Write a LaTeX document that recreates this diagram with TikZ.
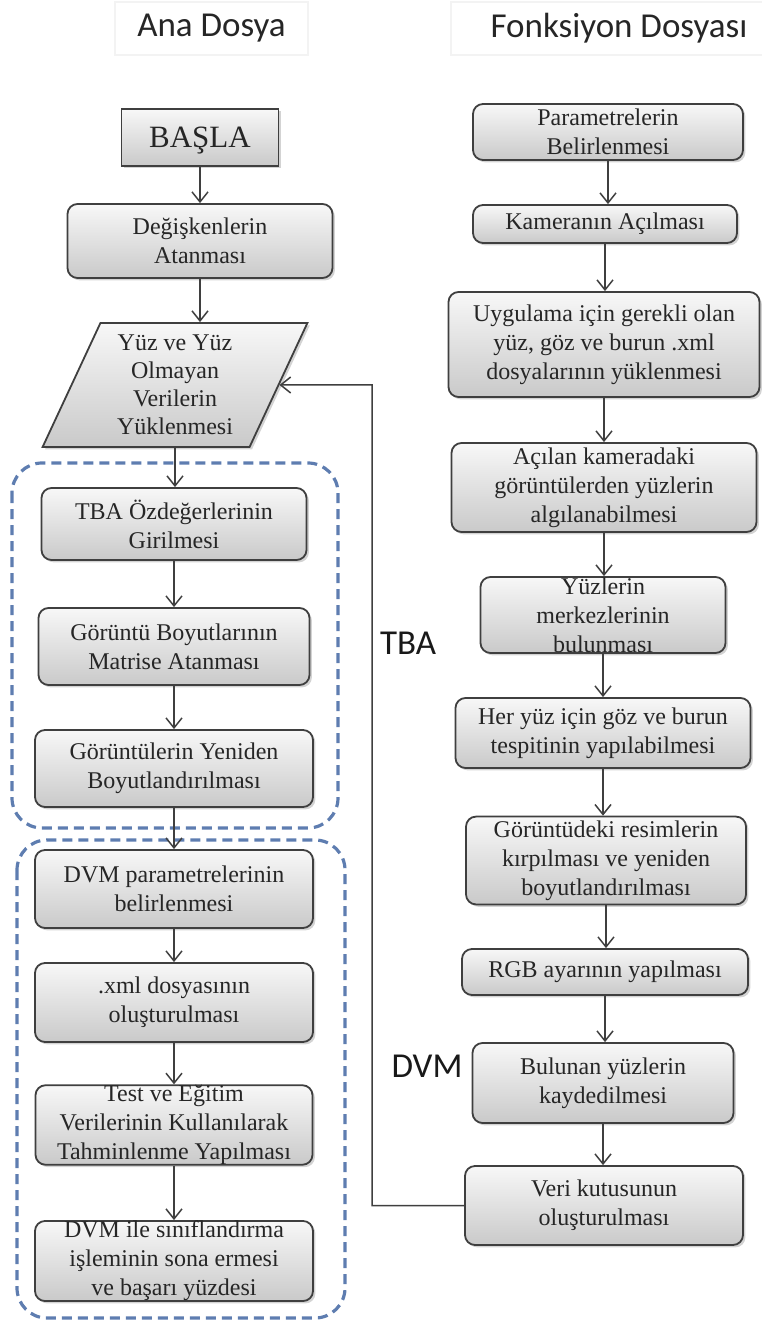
\documentclass[tikz,border=0pt]{standalone}
\usepackage{fontspec}
\setmainfont{Liberation Serif}
\newfontfamily\headfont{Carlito}
\usepackage{tikz}
\usetikzlibrary{arrows.meta,shapes.geometric,shadows,positioning}
\definecolor{framegray}{HTML}{3F3F3F}
\definecolor{dashblue}{HTML}{5E7DB0}
\definecolor{headline}{HTML}{F3F3F3}
\tikzset{
  procbox/.style={draw=framegray,line width=0.9pt,rounded corners=5pt,top color=gray!6,bottom color=gray!42,
    align=center,font=\fontsize{12}{14.5}\selectfont,text=black!85,inner sep=2pt,
    drop shadow={shadow xshift=1.2pt,shadow yshift=-1.2pt,opacity=0.35}},
  startbox/.style={procbox,sharp corners,font=\fontsize{15.5}{18}\selectfont,text depth=0pt},
  iobox/.style={procbox,sharp corners,trapezium,trapezium left angle=66,trapezium right angle=114,
    trapezium stretches=true,font=\fontsize{12}{14}\selectfont},
  flow/.style={-{Straight Barb[length=5pt,width=8pt]},line width=0.75pt,draw=framegray},
  groupframe/.style={draw=dashblue,line width=1.6pt,dash pattern=on 5pt off 3pt,rounded corners=15pt},
  headbox/.style={draw=headline,line width=0.6pt,font=\headfont\fontsize{17.5}{20}\selectfont,text=black!85},
  sidelabel/.style={font=\headfont\fontsize{17.5}{20}\selectfont,text=black!90,inner sep=0pt}
}
\begin{document}
\begin{tikzpicture}[x=0.5pt,y=-0.5pt]
  \useasboundingbox (0,0) rectangle (761,1320);
  % group frames
  \draw[groupframe] (12,463) rectangle (338,828);
  \draw[groupframe] (17,840) rectangle (345,1318);
  % headers
  \node[headbox,minimum width=96.5pt,minimum height=26.5pt] (anabaslik) at (211.5,28.5) {Ana Dosya};
  \node[headbox,minimum width=168pt,minimum height=26.5pt] (fonkbaslik) at (619,28.5) {Fonksiyon Dosyası};
  % Ana Dosya
  \node[startbox,minimum width=78.5pt,minimum height=28.5pt] (basla) at (200,137.5) {BAŞLA};
  \node[procbox,minimum width=132.5pt,minimum height=37pt] (degisken) at (200,241) {Değişkenlerin\\Atanması};
  \node[iobox,minimum width=132.5pt,minimum height=62pt] (veriyukle) at (175,385) {Yüz ve Yüz\\Olmayan\\Verilerin\\Yüklenmesi};
  \node[procbox,minimum width=132.5pt,minimum height=36pt] (tbaoz) at (174,524) {TBA Özdeğerlerinin\\Girilmesi};
  \node[procbox,minimum width=135.5pt,minimum height=38.5pt] (tbaboyut) at (174,646.5) {Görüntü Boyutlarının\\Matrise Atanması};
  \node[procbox,minimum width=139pt,minimum height=38.5pt] (tbayeniden) at (174,768.5) {Görüntülerin Yeniden\\Boyutlandırılması};
  \node[procbox,minimum width=139pt,minimum height=39pt] (dvmparam) at (174,889) {DVM parametrelerinin\\belirlenmesi};
  \node[procbox,minimum width=139pt,minimum height=39.5pt] (dvmxml) at (174,1002.5) {.xml dosyasının\\oluşturulması};
  \node[procbox,minimum width=138.5pt,minimum height=38pt,inner ysep=0pt] (dvmtest) at (174,1125) {Test ve Eğitim\\Verilerinin Kullanılarak\\Tahminlenme Yapılması};
  \node[procbox,minimum width=139pt,minimum height=39pt,inner ysep=0pt] (dvmsonuc) at (174,1261) {DVM ile sınıflandırma\\işleminin sona ermesi\\ve başarı yüzdesi};
  % Fonksiyon Dosyasi
  \node[procbox,minimum width=135pt,minimum height=28pt] (fparam) at (608,132) {Parametrelerin\\Belirlenmesi};
  \node[procbox,minimum width=132pt,minimum height=19pt] (fkamera) at (605,224) {Kameranın Açılması};
  \node[procbox,minimum width=155.5pt,minimum height=52.5pt] (fxml) at (604,344.5) {Uygulama için gerekli olan\\yüz, göz ve burun .xml\\dosyalarının yüklenmesi};
  \node[procbox,minimum width=152.5pt,minimum height=44.5pt] (falgila) at (604,487.5) {Açılan kameradaki\\görüntülerden yüzlerin\\algılanabilmesi};
  \node[procbox,minimum width=122.5pt,minimum height=38pt,inner ysep=0pt] (fmerkez) at (603,615) {Yüzlerin\\merkezlerinin\\bulunması};
  \node[procbox,minimum width=147.5pt,minimum height=35pt] (fgozburun) at (603,733) {Her yüz için göz ve burun\\tespitinin yapılabilmesi};
  \node[procbox,minimum width=140pt,minimum height=42.5pt] (fkirp) at (606,860.5) {Görüntüdeki resimlerin\\kırpılması ve yeniden\\boyutlandırılması};
  \node[procbox,minimum width=143pt,minimum height=23pt] (frgb) at (605,972) {RGB ayarının yapılması};
  \node[procbox,minimum width=130.5pt,minimum height=40pt] (fkaydet) at (603,1083) {Bulunan yüzlerin\\kaydedilmesi};
  \node[procbox,minimum width=139pt,minimum height=39.5pt] (fveri) at (604,1205.5) {Veri kutusunun\\oluşturulması};
  % side labels
  \node[sidelabel] (tbaetiket) at (408,643.5) {TBA};
  \node[sidelabel] (dvmetiket) at (427,1066) {DVM};
  % arrows
  \foreach \a/\b in {basla/degisken,degisken/veriyukle,veriyukle/tbaoz,tbaoz/tbaboyut,tbaboyut/tbayeniden,
    tbayeniden/dvmparam,dvmparam/dvmxml,dvmxml/dvmtest,dvmtest/dvmsonuc,
    fparam/fkamera,fkamera/fxml,fxml/falgila,falgila/fmerkez,fmerkez/fgozburun,fgozburun/fkirp,
    fkirp/frgb,frgb/fkaydet,fkaydet/fveri}
    \draw[flow] (\a.south) -- (\a.south |- \b.north);
  \coordinate (donus) at (372,385);
  \draw[flow] (fveri.west) -| (donus) -- (veriyukle.east);
\end{tikzpicture}
\end{document}
